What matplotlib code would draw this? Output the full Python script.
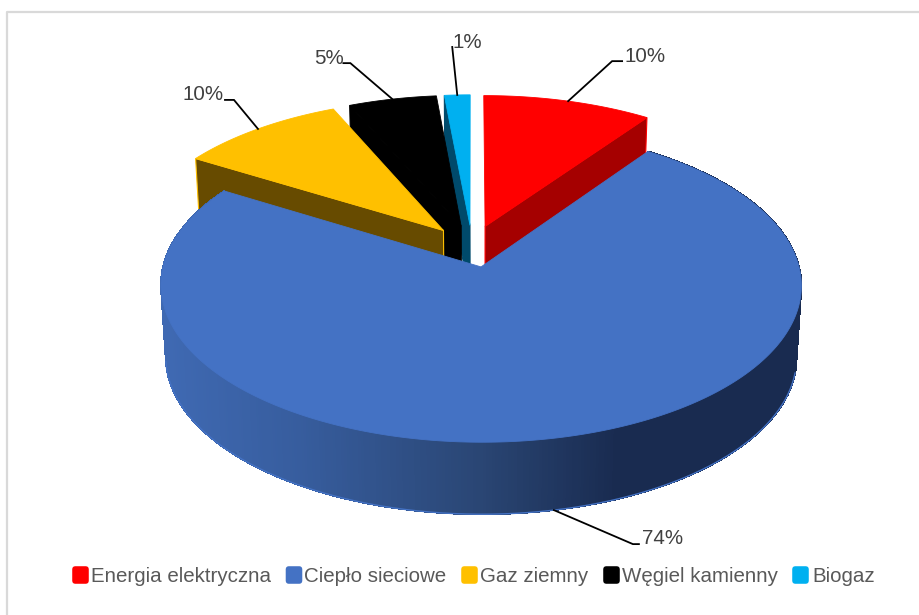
import numpy as np
import matplotlib
matplotlib.use("Agg")
import matplotlib.pyplot as plt
from matplotlib.collections import PolyCollection
from matplotlib.colors import LinearSegmentedColormap
from matplotlib.patches import FancyBboxPatch

categories = ["Energia elektryczna", "Ciepło sieciowe", "Gaz ziemny", "Węgiel kamienny", "Biogaz"]
shares = [9.8, 73.9, 9.7, 5.11, 1.49]
colors = ["#FF0000", "#4472C4", "#FFC000", "#000000", "#00B0F0"]
wall_colors = ["#A50000", "#2C4A80", "#674B00", "#000000", "#004A6B"]

# projection of the pie plane to figure pixels
CX, CY = 472, 246
RX, RY = 313, 150
PERSP = 0.115
EXPLODE = 0.14
DEPTH = 72
BOTTOM_SHRINK = 0.985

plt.rcParams["font.family"] = ["Liberation Sans", "DejaVu Sans"]


def top(x, y):
    w = 1 + PERSP * y
    return CX + RX * x / w, CY - RY * y / w


def bottom(x, y):
    sx, sy = top(x, y)
    return CX + 9 + (sx - CX - 9) * BOTTOM_SHRINK, sy + DEPTH


def rim(a, off):
    return off[0] + np.sin(a), off[1] + np.cos(a)


fig = plt.figure(figsize=(9.2, 6.15), dpi=100)
ax = fig.add_axes([0, 0, 1, 1])
ax.set_xlim(0, 920)
ax.set_ylim(615, 0)
ax.axis("off")

# chart frame, only left and top are in the crop
ax.plot([7.5, 7.5, 920], [615, 11.5, 11.5], color="#D9D9D9", lw=1.6, zorder=1)

side_cmap = LinearSegmentedColormap.from_list(
    "side", [(0, "#3F69B2"), (0.21, "#375D9E"), (0.5, "#2A4674"), (0.72, "#192B50"), (1, "#192B50")]
)

edges = np.radians(np.concatenate([[0], np.cumsum(shares) * 3.6]))
slices = []
for i in range(len(shares)):
    mid = (edges[i] + edges[i + 1]) / 2
    slices.append((edges[i], edges[i + 1], mid, (EXPLODE * np.sin(mid), EXPLODE * np.cos(mid))))

z = 2
for i in [4, 3, 2, 0, 1]:
    a0, a1, mid, off = slices[i]
    arc = np.linspace(a0, a1, max(8, int(np.degrees(a1 - a0) * 2)))
    rx, ry = rim(arc, off)

    # radial wall facing the viewer; the big slice hides its own
    if i != 1:
        a = a1 if i == 0 else a0
        ex, ey = rim(a, off)
        wall = [top(*off), top(ex, ey), bottom(ex, ey), bottom(*off)]
        ax.fill(*zip(*wall), facecolor=wall_colors[i], edgecolor=colors[i] if i != 4 else wall_colors[i],
                lw=0.8, zorder=z)
        z += 1

    # outer side only shows on the big slice
    if i == 1:
        quads = []
        fcs = []
        for j in range(len(arc) - 1):
            quad = [top(rx[j], ry[j]), top(rx[j + 1], ry[j + 1]), bottom(rx[j + 1], ry[j + 1]), bottom(rx[j], ry[j])]
            quads.append(quad)
            fcs.append(side_cmap(np.clip((quad[0][0] - 165) / 630, 0, 1)))
        ax.add_collection(PolyCollection(quads, facecolors=fcs, edgecolors=fcs, linewidths=0.6, antialiaseds=False, zorder=z))
        z += 1
        # lower rim, front part only
        front = (arc > np.radians(102)) & (arc < np.radians(262))
        bx, by = bottom(rx[front], ry[front])
        ax.plot(bx, by, color=colors[i], lw=1.0, zorder=z)
        z += 1

    # top face
    tx, ty = top(rx, ry)
    ax_x, ax_y = top(*off)
    ax.fill(np.r_[ax_x, tx], np.r_[ax_y, ty], facecolor=colors[i], edgecolor=colors[i], lw=0.6,
            joinstyle="miter", zorder=z)
    z += 1

# data labels with leader lines: elbow offset from the rim, text anchor
leaders = [
    ((44, -40), (54, -40), (625, 57)),
    ((79, 34), (85, 34), (642, 539)),
    ((-24, -29), (-33, -29), (183, 95)),
    ((-42, -36), (-49, -36), (314, 58)),
    ((-5, -48), (-5, -48), (453, 43)),
]
for i, (elbow, end, pos) in enumerate(leaders):
    a0, a1, mid, off = slices[i]
    mx, my = rim(mid, off)
    sx, sy = bottom(mx, my) if i == 1 else top(mx, my)
    ax.plot([sx, sx + elbow[0], sx + end[0]], [sy, sy + elbow[1], sy + end[1]], color="black", lw=1.3,
            solid_joinstyle="miter", zorder=z)
    ax.text(pos[0], pos[1], f"{round(shares[i])}%", fontsize=14.75, color="#404040", ha="left", va="center", zorder=z + 1)

# legend
marker_x = [73, 286.5, 462, 604, 793]
text_x = [91, 304, 480, 622, 812]
for i, name in enumerate(categories):
    ax.add_patch(FancyBboxPatch((marker_x[i] + 2, 569), 11, 12, boxstyle="round,pad=0,rounding_size=0", mutation_scale=1,
                                facecolor=colors[i], edgecolor=colors[i], lw=4, joinstyle="round", zorder=z))
    ax.text(text_x[i], 577, name, fontsize=14.75, color="#595959", ha="left", va="center", zorder=z)

fig.savefig("out.png", dpi=100)
